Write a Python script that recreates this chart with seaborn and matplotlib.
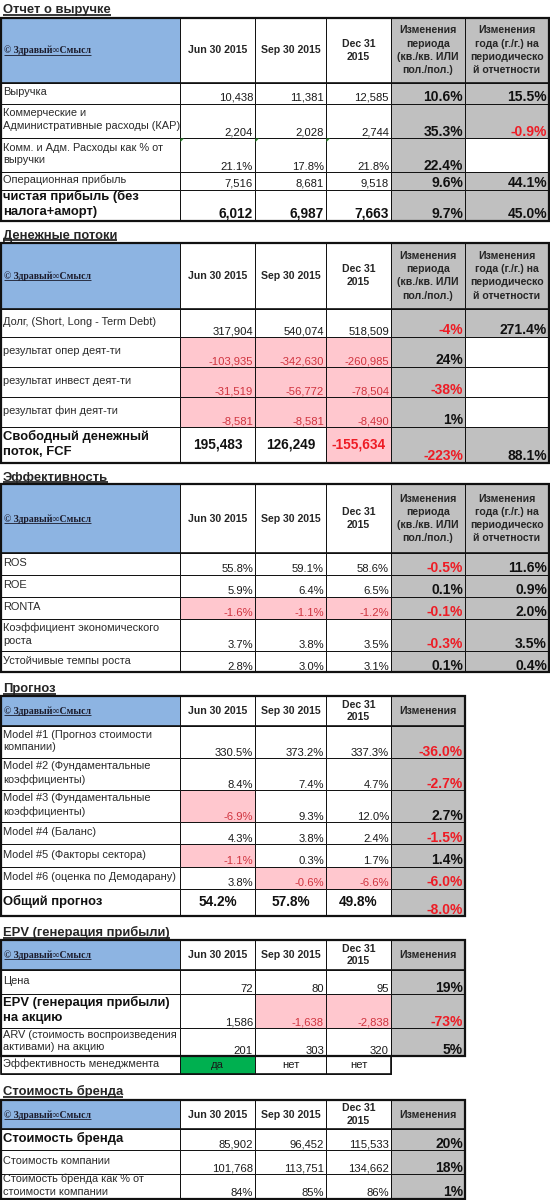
import matplotlib
matplotlib.use('Agg')
import matplotlib.pyplot as plt
import seaborn as sns
from matplotlib.patches import Rectangle, Polygon

sns.set_theme(style='white')
plt.rcParams['font.family'] = ['Liberation Sans', 'DejaVu Sans']

# ---- data ----
DATES = ['Jun 30 2015', 'Sep 30 2015', 'Dec 31\n2015']
HDR_QOQ = 'Изменения\nпериода\n(кв./кв. ИЛИ\nпол./пол.)'
HDR_YOY = 'Изменения\nгода (г./г.) на\nпериодическо\nй отчетности'
HDR_CHG = 'Изменения'
COPY = '© Здравый∞Смысл'

# Отчет о выручке
rev_labels = ['Выручка', 'Коммерческие и\nАдминистративные расходы (КАР)',
              'Комм. и Адм. Расходы как % от\nвыручки', 'Операционная прибыль',
              'чистая прибыль (без\nналога+аморт)']
rev_jun = ['10,438', '2,204', '21.1%', '7,516', '6,012']
rev_sep = ['11,381', '2,028', '17.8%', '8,681', '6,987']
rev_dec = ['12,585', '2,744', '21.8%', '9,518', '7,663']
rev_qoq = ['10.6%', '35.3%', '22.4%', '9.6%', '9.7%']
rev_yoy = ['15.5%', '-0.9%', '', '44.1%', '45.0%']

# Денежные потоки
cf_labels = ['Долг, (Short, Long - Term Debt)', 'результат опер деят-ти',
             'результат инвест деят-ти', 'результат фин деят-ти',
             'Свободный денежный\nпоток, FCF']
cf_jun = ['317,904', '-103,935', '-31,519', '-8,581', '195,483']
cf_sep = ['540,074', '-342,630', '-56,772', '-8,581', '126,249']
cf_dec = ['518,509', '-260,985', '-78,504', '-8,490', '-155,634']
cf_qoq = ['-4%', '24%', '-38%', '1%', '-223%']
cf_yoy = ['271.4%', '', '', '', '88.1%']

# Эффективность
eff_labels = ['ROS', 'ROE', 'RONTA', 'Коэффициент экономического\nроста',
              'Устойчивые темпы роста']
eff_jun = ['55.8%', '5.9%', '-1.6%', '3.7%', '2.8%']
eff_sep = ['59.1%', '6.4%', '-1.1%', '3.8%', '3.0%']
eff_dec = ['58.6%', '6.5%', '-1.2%', '3.5%', '3.1%']
eff_qoq = ['-0.5%', '0.1%', '-0.1%', '-0.3%', '0.1%']
eff_yoy = ['11.6%', '0.9%', '2.0%', '3.5%', '0.4%']

# Прогноз
fc_labels = ['Model #1 (Прогноз стоимости\nкомпании)', 'Model #2 (Фундаментальные\nкоэффициенты)',
             'Model #3 (Фундаментальные\nкоэффициенты)', 'Model #4 (Баланс)',
             'Model #5 (Факторы сектора)', 'Model #6 (оценка по Демодарану)', 'Общий прогноз']
fc_jun = ['330.5%', '8.4%', '-6.9%', '4.3%', '-1.1%', '3.8%', '54.2%']
fc_sep = ['373.2%', '7.4%', '9.3%', '3.8%', '0.3%', '-0.6%', '57.8%']
fc_dec = ['337.3%', '4.7%', '12.0%', '2.4%', '1.7%', '-6.6%', '49.8%']
fc_chg = ['-36.0%', '-2.7%', '2.7%', '-1.5%', '1.4%', '-6.0%', '-8.0%']

# EPV (генерация прибыли)
epv_labels = ['Цена', 'EPV (генерация прибыли)\nна акцию',
              'ARV (стоимость воспроизведения\nактивами) на акцию', 'Эффективность менеджмента']
epv_jun = ['72', '1,586', '201', 'да']
epv_sep = ['80', '-1,638', '303', 'нет']
epv_dec = ['95', '-2,838', '320', 'нет']
epv_chg = ['19%', '-73%', '5%', None]

# Стоимость бренда
br_labels = ['Стоимость бренда', 'Стоимость компании', 'Стоимость бренда как % от\nстоимости компании']
br_jun = ['85,902', '101,768', '84%']
br_sep = ['96,452', '113,751', '85%']
br_dec = ['115,533', '134,662', '86%']
br_chg = ['20%', '18%', '1%']

# ---- styling ----
BLUE = '#8db4e2'
GRAY = '#c0c0c0'
PINK = '#ffc7ce'
PINK_TXT = '#d0343f'
RED = '#ee1c25'
GREEN = '#00b050'
XS = [1, 180, 255, 326, 391, 465, 549]
FS = 7.9       # normal text
FS_BIG = 9.4   # big bold labels
FS_CHG = 10.0  # change columns
FS_HDR = 7.6
FS_TITLE = 9.4

fig = plt.figure(figsize=(5.5, 12), dpi=100)
ax = fig.add_axes([0, 0, 1, 1])
ax.set_xlim(0, 550)
ax.set_ylim(1200, 0)
ax.axis('off')
fig.patch.set_facecolor('white')

underline = []  # (text, offset, lw)


def cell(x0, x1, y0, y1, fc='white', lw=0.7):
    ax.add_patch(Rectangle((x0, y0), x1 - x0, y1 - y0, facecolor=fc,
                           edgecolor='#111111', linewidth=lw, zorder=1))


def draw_section(title, title_y, edges, labels, cols, chg, chg_hdr, kinds):
    ncol = 4 + len(chg)
    t = ax.text(3, title_y, title, fontsize=FS_TITLE, fontweight='bold', va='baseline', ha='left')
    underline.append((t, 1.8, 1.3))

    # header row
    h0, h1 = edges[0], edges[1]
    cell(XS[0], XS[1], h0, h1, BLUE)
    t = ax.text(4, (h0 + h1) / 2 + 3, COPY, fontsize=7.0, fontweight='bold',
                family=['Liberation Serif', 'DejaVu Serif'], color='#1a1a2a', va='baseline')
    underline.append((t, 1.3, 0.6))
    for j, d in enumerate(DATES):
        cell(XS[j + 1], XS[j + 2], h0, h1)
        ax.text((XS[j + 1] + XS[j + 2]) / 2, (h0 + h1) / 2, d, fontsize=FS_HDR,
                fontweight='bold', ha='center', va='center', linespacing=1.35)
    for j, h in enumerate(chg_hdr):
        cell(XS[4 + j], XS[5 + j], h0, h1, GRAY)
        ax.text((XS[4 + j] + XS[5 + j]) / 2, (h0 + h1) / 2, h, fontsize=FS_HDR,
                fontweight='bold', color='#262626', ha='center', va='center', linespacing=1.4)

    for i, lab in enumerate(labels):
        y0, y1 = edges[i + 1], edges[i + 2]
        k = kinds[i]
        big = k in 'BCL'
        cell(XS[0], XS[1], y0, y1)
        ax.text(3, (y0 + y1) / 2 - 1, lab, fontsize=FS_BIG if big else FS,
                fontweight='bold' if big else 'normal', color='#111111' if big else '#2a2a2a',
                ha='left', va='center', linespacing=1.25 if big else 1.33)
        for j, col in enumerate(cols):
            v = col[i]
            neg = v.startswith('-')
            fc = PINK if neg else 'white'
            if k == 'M' and v == 'да':
                fc = GREEN
            cell(XS[j + 1], XS[j + 2], y0, y1, fc)
            color = PINK_TXT if neg else '#1a1a1a'
            if k in 'BC':
                fw, fs = 'bold', 9.8
                color = RED if neg else '#111111'
            else:
                fw, fs = 'normal', FS + 0.2
            if k in 'CM':
                ax.text((XS[j + 1] + XS[j + 2]) / 2, (y0 + y1) / 2 - 0.5, v, fontsize=fs,
                        fontweight=fw, color=color, ha='center', va='center')
            else:
                ax.text(XS[j + 2] - 2, y1 - 2.5, v, fontsize=fs, fontweight=fw,
                        color=color, ha='right', va='baseline')
            if k == 'K':
                ax.add_patch(Polygon([(XS[j + 1] + 0.5, y0 + 0.5), (XS[j + 1] + 4, y0 + 0.5),
                                      (XS[j + 1] + 0.5, y0 + 4)], closed=True,
                                     facecolor='#2e8b2e', edgecolor='none', zorder=3))
        for j, col in enumerate(chg):
            v = col[i]
            if v is None:
                continue
            cell(XS[4 + j], XS[5 + j], y0, y1, GRAY if v else 'white')
            if v:
                ax.text(XS[5 + j] - 2, y1 - 2.5, v, fontsize=FS_CHG, fontweight='bold',
                        color=RED if v.startswith('-') else '#111111', ha='right', va='baseline')

    # thick outline
    if kinds[-1] == 'M':
        ax.add_patch(Rectangle((XS[0], edges[0]), XS[ncol] - XS[0], edges[-2] - edges[0],
                               fill=False, edgecolor='#111111', linewidth=1.6, zorder=4))
        ax.add_patch(Rectangle((XS[0], edges[-2]), XS[4] - XS[0], edges[-1] - edges[-2],
                               fill=False, edgecolor='#111111', linewidth=1.2, zorder=4))
    else:
        ax.add_patch(Rectangle((XS[0], edges[0]), XS[ncol] - XS[0], edges[-1] - edges[0],
                               fill=False, edgecolor='#111111', linewidth=1.6, zorder=4))
    ax.plot([XS[0], XS[ncol]], [edges[1], edges[1]], color='#111111', lw=1.2, zorder=4)


draw_section('Отчет о выручке', 13, [17.5, 83, 103.5, 138, 172, 189.5, 220.5],
             rev_labels, [rev_jun, rev_sep, rev_dec], [rev_qoq, rev_yoy],
             [HDR_QOQ, HDR_YOY], ['n', 'n', 'K', 'n', 'B'])
draw_section('Денежные потоки', 238.5, [242.5, 309, 337, 367, 397, 427, 463],
             cf_labels, [cf_jun, cf_sep, cf_dec], [cf_qoq, cf_yoy],
             [HDR_QOQ, HDR_YOY], ['n', 'n', 'n', 'n', 'C'])
draw_section('Эффективность', 480.5, [484, 553, 575, 597, 619, 651, 672],
             eff_labels, [eff_jun, eff_sep, eff_dec], [eff_qoq, eff_yoy],
             [HDR_QOQ, HDR_YOY], ['n'] * 5)
draw_section('Прогноз', 692, [696, 726, 758, 790, 822, 844, 867, 889, 916],
             fc_labels, [fc_jun, fc_sep, fc_dec], [fc_chg],
             [HDR_CHG], ['n'] * 6 + ['C'])
draw_section('EPV (генерация прибыли)', 936, [940, 970, 994, 1028, 1056, 1074],
             epv_labels, [epv_jun, epv_sep, epv_dec], [epv_chg],
             [HDR_CHG], ['n', 'L', 'n', 'M'])
draw_section('Стоимость бренда', 1095.5, [1100, 1129, 1150, 1174, 1199],
             br_labels, [br_jun, br_sep, br_dec], [br_chg],
             [HDR_CHG], ['L', 'n', 'n'])

# underline titles and the copyright mark
fig.canvas.draw()
r = fig.canvas.get_renderer()
inv = ax.transData.inverted()
for t, off, lw in underline:
    bb = t.get_window_extent(r)
    (x0, _), (x1, _) = inv.transform([[bb.x0, bb.y0], [bb.x1, bb.y1]])
    y = t.get_position()[1] + off
    ax.plot([x0, x1], [y, y], color=t.get_color(), lw=lw, solid_capstyle='butt', zorder=5)

fig.savefig('out.png', dpi=100, facecolor='white')
